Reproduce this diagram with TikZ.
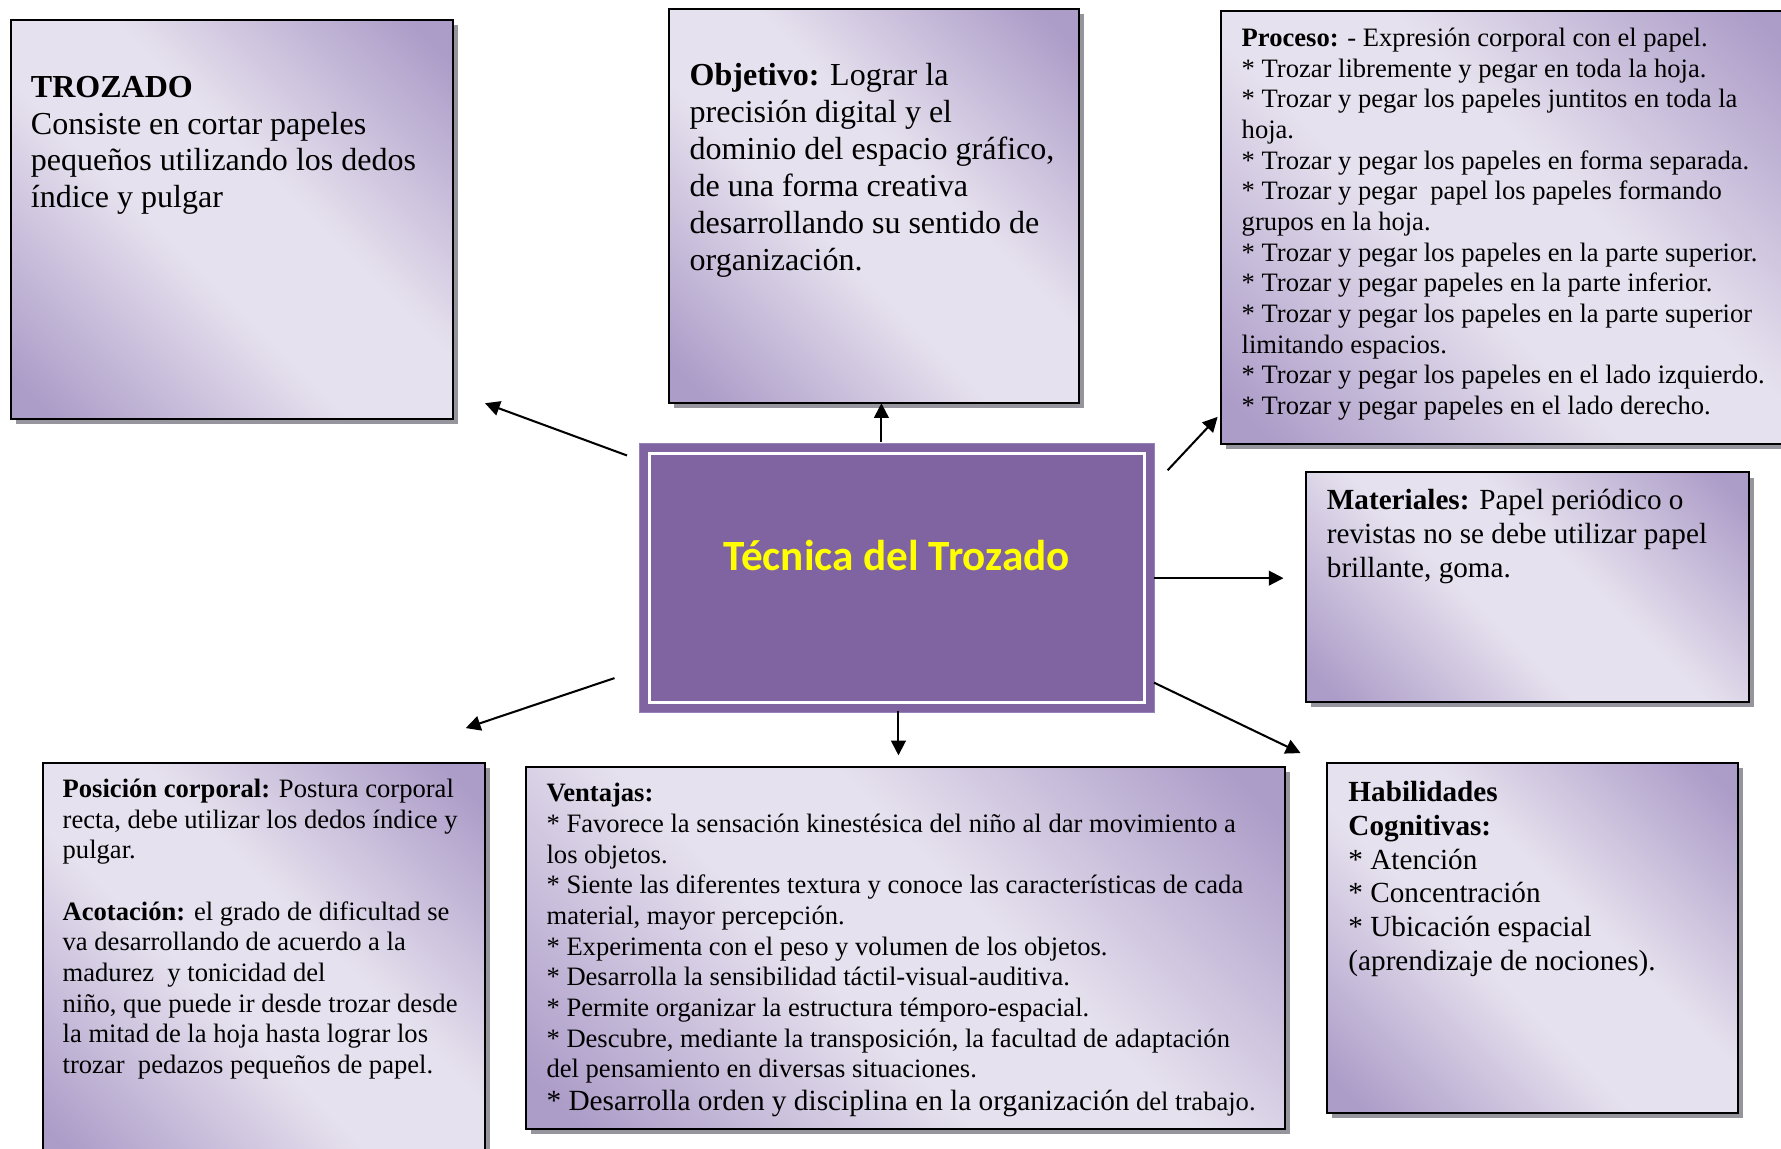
\documentclass[tikz,border=0pt]{standalone}
\usepackage{fontspec}
\setmainfont{Liberation Serif}
\newfontfamily\titlefont{Carlito}
\usetikzlibrary{arrows.meta,shadows}
\definecolor{boxdark}{RGB}{172,156,200}
\definecolor{boxlight}{RGB}{230,225,238}
\definecolor{shadowgray}{RGB}{150,148,156}
\definecolor{centerpurple}{RGB}{128,100,162}
\definecolor{centeredge}{RGB}{150,130,185}
\definecolor{titleyellow}{RGB}{255,255,0}
\pgfdeclareverticalshading{boxshade}{100bp}{color(0bp)=(boxdark); color(18bp)=(boxdark); color(43bp)=(boxlight); color(57bp)=(boxlight); color(82bp)=(boxdark); color(100bp)=(boxdark)}
\begin{document}
\begin{tikzpicture}[x=1pt,y=-1pt,
  box/.style={draw=black, line width=1.8pt, inner sep=0pt, anchor=north west,
     shading=boxshade, shading angle=-45,
     drop shadow={shadow xshift=4.5pt, shadow yshift=-4.5pt, fill=shadowgray, opacity=1}},
  txt/.style={anchor=base west, inner sep=0pt, align=left},
  arr/.style={line width=1.8pt, -{Triangle[length=13pt,width=13pt]}},
]
\useasboundingbox (0,0) rectangle (1568,1011);
\fill[white] (0,0) rectangle (1568,1011);
\clip (0,0) rectangle (1568,1011);

% boxes
\node[box, minimum width=389pt, minimum height=351pt] (trozado) at (9,17) {};
\node[box, minimum width=361pt, minimum height=347pt] (objetivo) at (588,7) {};
\node[box, minimum width=510pt, minimum height=381pt] (proceso) at (1074,9) {};
\node[box, minimum width=390pt, minimum height=202pt] (materiales) at (1149,415) {};
\node[box, minimum width=362pt, minimum height=308pt] (habilidades) at (1167,671) {};
\node[box, minimum width=668pt, minimum height=319pt] (ventajas) at (462,674) {};
\node[box, minimum width=389pt, minimum height=355pt] (posicion) at (37,671) {};

% central box
\node[fill=centerpurple, draw=centeredge, line width=0.8pt, inner sep=0pt, anchor=north west,
      minimum width=453pt, minimum height=237pt] (centro) at (563,390) {};
\draw[white, line width=2.6pt] ([shift={(9pt,-9pt)}]centro.north west) rectangle ([shift={(-9pt,9pt)}]centro.south east);
\node[anchor=base, inner sep=0pt, text=titleyellow, font=\titlefont\bfseries\fontsize{38}{40}\selectfont] (titulo) at (789.5,502) {Técnica del Trozado};

% texts (anchored at the baseline of the last line)
\node[txt, font=\fontsize{28.2}{32.5}\selectfont] (trozadoT) at (27,183) {\textbf{TROZADO}\\Consiste en cortar papeles\\pequeños utilizando los dedos\\índice y pulgar};

\node[txt, font=\fontsize{28.2}{32.6}\selectfont] (objetivoT) at (607,238) {\textbf{Objetivo:} Lograr la\\precisión digital y el\\dominio del espacio gráfico,\\de una forma creativa\\desarrollando su sentido de\\organización.};

\node[txt, font=\fontsize{23.4}{27}\selectfont] (procesoT) at (1093,365) {\textbf{Proceso:} - Expresión corporal con el papel.\\* Trozar libremente y pegar en toda la hoja.\\* Trozar y pegar los papeles juntitos en toda la\\hoja.\\* Trozar y pegar los papeles en forma separada.\\* Trozar y pegar \ papel los papeles formando\\grupos en la hoja.\\* Trozar y pegar los papeles en la parte superior.\\* Trozar y pegar papeles en la parte inferior.\\* Trozar y pegar los papeles en la parte superior\\limitando espacios.\\* Trozar y pegar los papeles en el lado izquierdo.\\* Trozar y pegar papeles en el lado derecho.};

\node[txt, font=\fontsize{25.7}{29.5}\selectfont] (materialesT) at (1168,508) {\textbf{Materiales:} Papel periódico o\\revistas no se debe utilizar papel\\brillante, goma.};

\node[txt, font=\fontsize{25.7}{29.6}\selectfont] (habilidadesT) at (1187,854) {\textbf{Habilidades}\\\textbf{Cognitivas:}\\* Atención\\* Concentración\\* Ubicación espacial\\(aprendizaje de nociones).};

\node[txt, font=\fontsize{23.4}{27}\selectfont] (ventajasT) at (481,978) {\textbf{Ventajas:}\\* Favorece la sensación kinestésica del niño al dar movimiento a\\los objetos.\\* Siente las diferentes textura y conoce las características de cada\\material, mayor percepción.\\* Experimenta con el peso y volumen de los objetos.\\* Desarrolla la sensibilidad táctil-visual-auditiva.\\* Permite organizar la estructura témporo-espacial.\\* Descubre, mediante la transposición, la facultad de adaptación\\del pensamiento en diversas situaciones.\\[2pt]{\fontsize{25.8}{27}\selectfont * Desarrolla orden y disciplina en la organización} del trabajo.};

\node[txt, font=\fontsize{23.4}{27}\selectfont] (posicionT) at (55,945) {\textbf{Posición corporal:} Postura corporal\\recta, debe utilizar los dedos índice y\\pulgar.\\[27pt]\textbf{Acotación:} el grado de dificultad se\\va desarrollando de acuerdo a la\\madurez \ y tonicidad del\\niño, que puede ir desde trozar desde\\la mitad de la hoja hasta lograr los\\trozar \ pedazos pequeños de papel.};

% connectors
\coordinate (s1) at (552,401); \coordinate (e1) at (427,355);
\coordinate (s2) at (776,389); \coordinate (e2) at (776,355);
\coordinate (s3) at (1028,414); \coordinate (e3) at (1072,367);
\coordinate (s4) at (1016,509); \coordinate (e4) at (1130,509);
\coordinate (s5) at (1016,601); \coordinate (e5) at (1145,663);
\coordinate (s6) at (791,626); \coordinate (e6) at (791,665);
\coordinate (s7) at (541,597); \coordinate (e7) at (410,641);
\draw[arr] (s1) -- (e1);
\draw[arr] (s2) -- (e2);
\draw[arr] (s3) -- (e3);
\draw[arr] (s4) -- (e4);
\draw[arr] (s5) -- (e5);
\draw[arr] (s6) -- (e6);
\draw[arr] (s7) -- (e7);
\end{tikzpicture}
\end{document}
